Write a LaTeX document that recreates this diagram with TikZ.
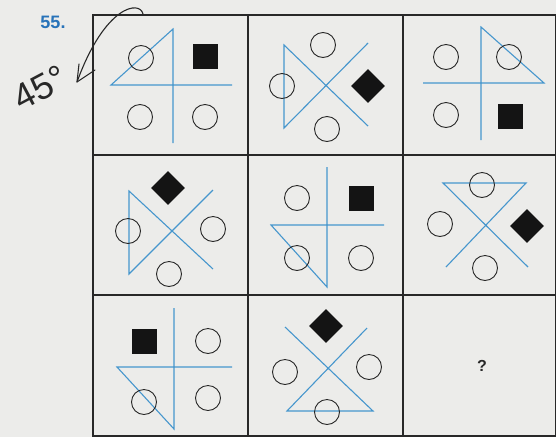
\documentclass[tikz,border=0pt]{standalone}
\usepackage{fontspec}
\setmainfont{Liberation Sans}
\definecolor{paper}{RGB}{236,236,234}
\definecolor{ln}{RGB}{70,150,205}
\definecolor{num}{RGB}{40,115,185}
\definecolor{ink}{RGB}{40,40,40}
\begin{document}
\begin{tikzpicture}[x=1pt,y=-1pt,
  bl/.style={draw=ln,line width=1.1pt},
  ring/.style={circle,draw=ink,line width=0.9pt,minimum size=25pt,inner sep=0pt},
  sq/.style={rectangle,fill=black!92,minimum size=25pt,inner sep=0pt},
  dia/.style={rectangle,fill=black!92,minimum size=24pt,inner sep=0pt,rotate=45},
  gridline/.style={draw=ink,line width=1.3pt}]
\fill[paper] (0,0) rectangle (556,437);
\useasboundingbox (0,0) rectangle (556,437);
% grid
\draw[gridline] (93,15) rectangle (555.5,436);
\draw[gridline] (248,15)--(248,436) (403,15)--(403,436) (93,155)--(555.5,155) (93,295)--(555.5,295);
% label
\node[text=num,font=\fontsize{18}{18}\selectfont\bfseries] (lbl) at (53,22) {55.};
% handwritten note
\draw[ink,line width=1.1pt,line cap=round,line join=round] (143,14) .. controls (140,0) and (105,5) .. (77,82);
\draw[ink,line width=1.1pt,line cap=round,line join=round] (79,64)--(77,82)--(95,70);
\node[ink,rotate=28,font=\fontsize{36}{36}\selectfont,inner sep=0pt] (deg) at (40,88) {45°};
% cell 1
\draw[bl] (173,143)--(173,29)--(111,85)--(232,85);
\node[ring] (c1a) at (141,58) {};
\node[ring] (c1b) at (140,117) {};
\node[ring] (c1c) at (205,117) {};
\node[sq] (s1) at (205,56) {};
% cell 2
\draw[bl] (368,43)--(284,128)--(284,45)--(368,126);
\node[ring] (c2a) at (323,45) {};
\node[ring] (c2b) at (282,86) {};
\node[ring] (c2c) at (327,129) {};
\node[dia] (d2) at (368,86) {};
% cell 3
\draw[bl] (481,140)--(481,27)--(544,83)--(423,83);
\node[ring] (c3a) at (446,57) {};
\node[ring] (c3b) at (509,57) {};
\node[ring] (c3c) at (446,115) {};
\node[sq] (s3) at (510,116) {};
% cell 4
\draw[bl] (213,190)--(129,274)--(129,191)--(213,269);
\node[dia] (d4) at (168,188) {};
\node[ring] (c4a) at (128,231) {};
\node[ring] (c4b) at (213,229) {};
\node[ring] (c4c) at (169,274) {};
% cell 5
\draw[bl] (327,167)--(327,287)--(271,225)--(384,225);
\node[ring] (c5a) at (297,198) {};
\node[ring] (c5b) at (297,258) {};
\node[ring] (c5c) at (361,258) {};
\node[sq] (s5) at (361,198) {};
% cell 6
\draw[bl] (528,267)--(443,183)--(526,183)--(446,267);
\node[ring] (c6a) at (482,185) {};
\node[ring] (c6b) at (440,224) {};
\node[ring] (c6c) at (485,268) {};
\node[dia] (d6) at (527,226) {};
% cell 7
\draw[bl] (174,308)--(174,429)--(117,367)--(232,367);
\node[sq] (s7) at (144,341) {};
\node[ring] (c7a) at (208,341) {};
\node[ring] (c7b) at (144,402) {};
\node[ring] (c7c) at (208,398) {};
% cell 8
\draw[bl] (285,327)--(373,411)--(287,411)--(367,328);
\node[dia] (d8) at (326,326) {};
\node[ring] (c8a) at (285,372) {};
\node[ring] (c8b) at (369,367) {};
\node[ring] (c8c) at (327,412) {};
% cell 9
\node[text=ink,font=\fontsize{16}{16}\selectfont\bfseries] (q) at (482,366) {?};
\end{tikzpicture}
\end{document}
